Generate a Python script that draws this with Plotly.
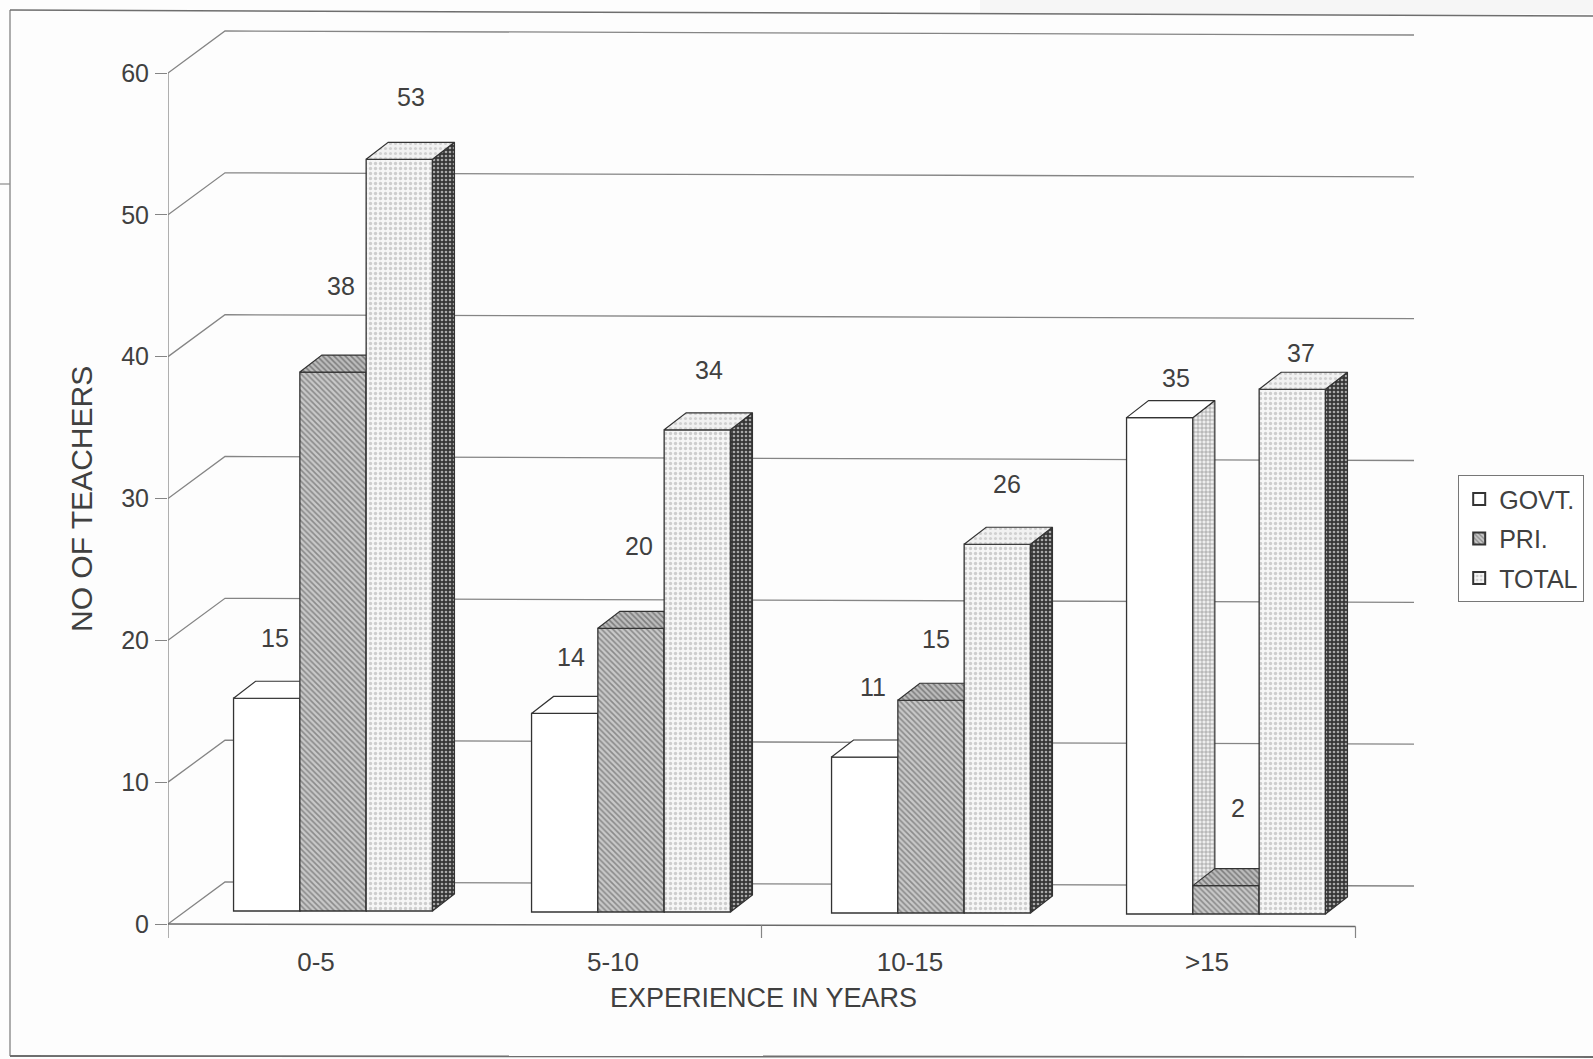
import plotly.graph_objects as go

# Survey counts by years of teaching experience
experience = ["0-5", "5-10", "10-15", ">15"]
govt = [15, 14, 11, 35]
pri = [38, 20, 15, 2]
total = [53, 34, 26, 37]

# Value-label placement around each bar's front top, in pixels
govt_lift = [60, 56, 70, 40]
pri_lift = [86, 82, 61, 78]
total_lift = [62, 60, 60, 36]
govt_nudge = [-3, -5, -3, 5]
pri_nudge = [-3, -3, -6, 1]
total_nudge = [1, 1, -1, -2]

# Horizontal placement of each bar cluster on the floor, in pixels
cluster_nudge = [-1, 0, 3, 1]

value_ticks = [0, 10, 20, 30, 40, 50, 60]

W, H = 1593, 1059
FONT = "Liberation Sans, Arial, sans-serif"
TEXT = "#404040"
INK = "#333333"
GRID = "#858585"

# Plot window in pixels; the scale below ties pixels to axis units
LEFT, RIGHT, TOP, BOTTOM = 168, 1414, 26, 938
Y0_PX, PX_PER_VALUE = 924, 14.183
PX_PER_CAT, CAT0_PX = 297, 316

x_range = [(LEFT - CAT0_PX) / PX_PER_CAT, (RIGHT - CAT0_PX) / PX_PER_CAT]
y_range = [(Y0_PX - BOTTOM) / PX_PER_VALUE, (Y0_PX - TOP) / PX_PER_VALUE]


def dx(px):
    return px / PX_PER_CAT


def dy(px):
    return px / PX_PER_VALUE


def page_x(px):
    return (px - LEFT) / (RIGHT - LEFT)


def page_y(px):
    return (BOTTOM - px) / (BOTTOM - TOP)


# Oblique projection used for the box tops and sides and for the back wall
WALL_DX, WALL_DY = dx(57), dy(42)
BAR_DX, BAR_DY = dx(22), dy(17)
FLOOR_DX = dx(18)
FLOOR_LIFT = dy(13)
SAG = dy(1)               # the floor and grid run slightly downhill to the right
BAR_W = dx(66.3)

SERIES = [
    dict(name="GOVT.", values=govt, lift=govt_lift, nudge=govt_nudge,
         front=dict(bg="#ffffff", fg="#ffffff", shape="", size=6, sol=0.1),
         top=dict(bg="#ffffff", fg="#ffffff", shape="", size=6, sol=0.1),
         side=dict(bg="#eeeeee", fg="#8c8c8c", shape="+", size=4, sol=0.3)),
    dict(name="PRI.", values=pri, lift=pri_lift, nudge=pri_nudge,
         front=dict(bg="#c9c9c9", fg="#8a8a8a", shape="\\", size=4, sol=0.4),
         top=dict(bg="#bdbdbd", fg="#7d7d7d", shape="\\", size=4, sol=0.4),
         side=dict(bg="#999999", fg="#555555", shape="x", size=4, sol=0.4)),
    dict(name="TOTAL", values=total, lift=total_lift, nudge=total_nudge,
         front=dict(bg="#f6f6f6", fg="#cdcdcd", shape=".", size=5, sol=0.35),
         top=dict(bg="#f1f1f1", fg="#d0d0d0", shape=".", size=5, sol=0.3),
         side=dict(bg="#363636", fg="#a8a8a8", shape=".", size=4, sol=0.35)),
]


def pattern(style):
    return dict(shape=style["shape"], bgcolor=style["bg"], fgcolor=style["fg"],
                size=style["size"], solidity=style["sol"], fillmode="replace")


def face(style):
    # Plain faces take a flat fill; textured ones take a pattern
    if style["shape"]:
        return dict(fillpattern=pattern(style))
    return dict(fillcolor=style["bg"])


fig = go.Figure()

# Back wall: each grid level runs from the value axis up the side wall, then across
for v in value_ticks:
    fig.add_trace(go.Scatter(
        x=[x_range[0], x_range[0] + WALL_DX, x_range[1]],
        y=[v, v + WALL_DY, v + WALL_DY - 4 * SAG],
        mode="lines", line=dict(color=GRID, width=1.3),
        showlegend=False, hoverinfo="skip", xaxis="x", yaxis="y"))

# Value axis and the front edge of the floor with its three tick marks
fig.add_trace(go.Scatter(
    x=[x_range[0], x_range[0]], y=[y_range[0], 60], mode="lines",
    line=dict(color=GRID, width=1.3), showlegend=False, hoverinfo="skip"))
fig.add_trace(go.Scatter(
    x=[x_range[0], 3.5], y=[0, -2.5 * SAG], mode="lines",
    line=dict(color="#6a6a6a", width=1.6), showlegend=False, hoverinfo="skip"))
for cat in (1.5, 3.5):
    fig.add_trace(go.Scatter(
        x=[cat, cat], y=[-(cat + 0.5) * SAG * 0.6, y_range[0]], mode="lines",
        line=dict(color=GRID, width=1.2), showlegend=False, hoverinfo="skip"))

annotations = []
# Each series sits on its own overlaid axes so that later boxes hide earlier sides
for k, s in enumerate(SERIES):
    xa, ya = f"x{k + 2}", f"y{k + 2}"
    centres = [i + FLOOR_DX + dx(cluster_nudge[i]) + (k - 1) * BAR_W
               for i in range(len(experience))]
    bases = [FLOOR_LIFT - i * SAG for i in range(len(experience))]

    marker = dict(color=s["front"]["bg"], line=dict(color=INK, width=1.3))
    if s["front"]["shape"]:
        marker["pattern"] = pattern(s["front"])
    fig.add_trace(go.Bar(
        x=centres, y=s["values"], base=bases, width=BAR_W, name=s["name"],
        legendgroup=s["name"], xaxis=xa, yaxis=ya, hoverinfo="skip", marker=marker))

    for c, b, v, lift, nudge in zip(centres, bases, s["values"], s["lift"], s["nudge"]):
        l, r, t = c - BAR_W / 2, c + BAR_W / 2, b + v
        fig.add_trace(go.Scatter(
            x=[r, r + BAR_DX, r + BAR_DX, r, r],
            y=[b, b + BAR_DY, t + BAR_DY, t, b],
            mode="lines", fill="toself", line=dict(color=INK, width=1.2),
            showlegend=False, hoverinfo="skip", xaxis=xa, yaxis=ya, **face(s["side"])))
        fig.add_trace(go.Scatter(
            x=[l, l + BAR_DX, r + BAR_DX, r, l],
            y=[t, t + BAR_DY, t + BAR_DY, t, t],
            mode="lines", fill="toself", line=dict(color=INK, width=1.2),
            showlegend=False, hoverinfo="skip", xaxis=xa, yaxis=ya, **face(s["top"])))
        annotations.append(dict(
            x=c + BAR_DX / 2, y=t, xref=xa, yref=ya, xshift=nudge, yshift=lift,
            text=str(v), showarrow=False, yanchor="middle",
            font=dict(size=25, color=TEXT)))

# Axis titles
annotations.append(dict(
    x=page_x(763), y=page_y(998), xref="paper", yref="paper", showarrow=False,
    text="EXPERIENCE IN YEARS", xanchor="center", yanchor="middle",
    font=dict(size=27, color=TEXT)))
annotations.append(dict(
    x=page_x(81), y=page_y(499), xref="paper", yref="paper", showarrow=False,
    text="NO OF TEACHERS", textangle=-90, xanchor="center", yanchor="middle",
    font=dict(size=30, color=TEXT)))

hidden = dict(visible=False, fixedrange=True)
layout_axes = {}
for n in (2, 3, 4):
    layout_axes[f"xaxis{n}"] = dict(hidden, overlaying="x", range=x_range)
    layout_axes[f"yaxis{n}"] = dict(hidden, overlaying="y", range=y_range)

# Scanned page frame: left, top and bottom rules, a stray mark, and the grey top edge
frame = [
    dict(type="rect", x0=page_x(980), x1=page_x(W), y0=page_y(0), y1=page_y(14),
         fillcolor="#f6f6f6", line=dict(width=0), layer="below"),
    dict(type="line", x0=page_x(10), x1=page_x(10), y0=page_y(10), y1=page_y(1056),
         line=dict(color="#8a8a8a", width=1.4)),
    dict(type="line", x0=page_x(10), x1=page_x(W), y0=page_y(10), y1=page_y(16),
         line=dict(color="#6e6e6e", width=1.5)),
    dict(type="line", x0=page_x(10), x1=page_x(W), y0=page_y(1056), y1=page_y(1057),
         line=dict(color="#6e6e6e", width=1.8)),
    dict(type="line", x0=page_x(0), x1=page_x(10), y0=page_y(184), y1=page_y(184),
         line=dict(color="#8a8a8a", width=1.2)),
]
for shape in frame:
    shape.update(xref="paper", yref="paper")

fig.update_layout(
    width=W, height=H, autosize=False,
    margin=dict(l=LEFT, r=W - RIGHT, t=TOP, b=H - BOTTOM, pad=0, autoexpand=False),
    paper_bgcolor="#fdfdfd", plot_bgcolor="rgba(0,0,0,0)",
    font=dict(family=FONT, color=TEXT, size=25),
    xaxis=dict(range=x_range, tickmode="array", tickvals=list(range(len(experience))),
               ticktext=experience, showgrid=False, zeroline=False, showline=False,
               ticks="", ticklabelstandoff=6, tickfont=dict(size=26), fixedrange=True),
    yaxis=dict(range=y_range, tickmode="array", tickvals=value_ticks,
               showgrid=False, zeroline=False, showline=False, ticks="outside",
               ticklen=12, tickcolor=GRID, tickwidth=1.3, ticklabelstandoff=1,
               tickfont=dict(size=25), fixedrange=True),
    legend=dict(x=page_x(1458), y=page_y(475), xanchor="left", yanchor="top",
                bgcolor="#ffffff", bordercolor="#777777", borderwidth=1.2,
                font=dict(size=25, color=TEXT), traceorder="grouped",
                tracegroupgap=4, itemsizing="constant"),
    annotations=annotations, shapes=frame,
    **layout_axes,
)

fig.write_html("out.html")
